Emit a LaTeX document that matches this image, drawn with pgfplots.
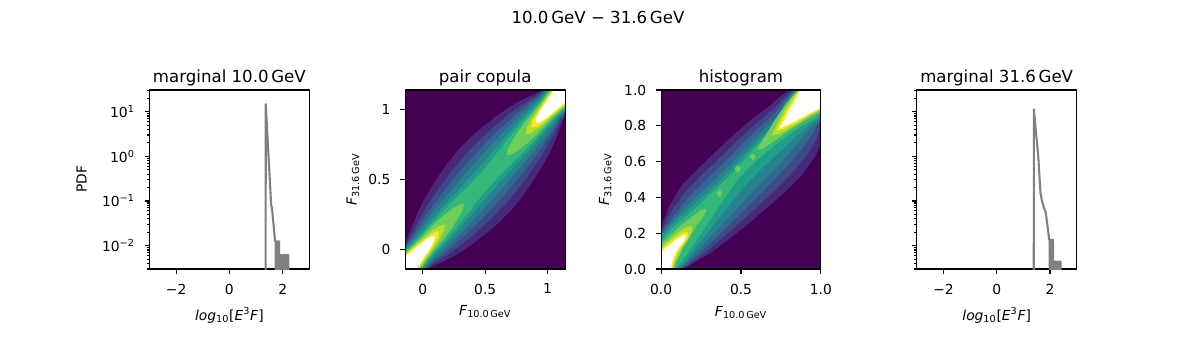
\documentclass[border=0pt]{standalone}
\usepackage{fontspec}
\setmainfont{DejaVu Sans}
\usepackage{pgfplots}
\pgfplotsset{compat=1.18}

% viridis, 10 levels
\definecolor{c0}{HTML}{440154}
\definecolor{c1}{HTML}{482878}
\definecolor{c2}{HTML}{3E4989}
\definecolor{c3}{HTML}{31688E}
\definecolor{c4}{HTML}{26828E}
\definecolor{c5}{HTML}{1F9E89}
\definecolor{c6}{HTML}{35B779}
\definecolor{c7}{HTML}{6ECE58}
\definecolor{c8}{HTML}{B5DE2B}
\definecolor{c9}{HTML}{FDE725}
\definecolor{histgray}{HTML}{808080}

\pgfplotsset{
  mypanel/.style={
    scale only axis, width=115.06bp, height=128.88bp, anchor=south west,
    axis line style={line width=0.8bp},
    every tick/.style={black, line width=0.8bp},
    tick align=outside, tick pos=left,
    major tick length=3.5bp, minor tick length=2bp,
    tick label style={font=\fontsize{10}{12}\selectfont},
    xticklabel style={anchor=north, inner sep=0pt, yshift=-7bp},
    yticklabel style={anchor=east, inner sep=0pt, xshift=-7bp},
    label style={font=\fontsize{10}{12}\selectfont},
    title style={font=\fontsize{12}{14}\selectfont, at={(0.5,1)}, anchor=base, inner sep=0pt, yshift=-0.6bp},
  },
  mymarg/.style={mypanel, xmin=-3, xmax=3, ymin=0.003, ymax=30.6,
    xtick={-2,0,2}, xticklabels={−2,0,2},
    ytick={0.01,0.1,1,10},
    minor ytick={0.003,0.004,0.005,0.006,0.007,0.008,0.009,0.02,0.03,0.04,0.05,0.06,0.07,0.08,0.09,0.2,0.3,0.4,0.5,0.6,0.7,0.8,0.9,2,3,4,5,6,7,8,9,20,30},
    xlabel={\textit{log}\textsubscript{10}[\textit{E}\textsuperscript{3}\textit{F}]},
    xlabel style={at={(axis description cs:0.5,-0.285)}, anchor=base},
  },
  mydens/.style={mypanel, axis on top, axis background/.style={fill=c0}},
  margline/.style={histgray, line width=1.5bp, line join=round},
}

\begin{document}
\begin{tikzpicture}
\path[use as bounding box] (0,0) rectangle (861.12bp,258.48bp);

% marginal 10.0 GeV
\begin{axis}[ymode=log, mymarg, at={(107.64bp,64.8bp)}, title={marginal 10.0\,GeV},
  yticklabels={10\textsuperscript{−2},10\textsuperscript{−1},10\textsuperscript{0},10\textsuperscript{1}},
  ylabel={PDF}, ylabel style={at={(axis description cs:-0.394,0.5)}, anchor=base}]
\addplot[margline] coordinates {(1.36,1e-4) (1.365,14.8) (1.567,0.082) (1.585,0.075) (1.60,0.068) (1.716,0.0125) (1.74,0.0125) (1.745,1e-4) (1.75,1e-4) (1.755,0.0125) (1.78,0.0125) (1.785,1e-4) (1.79,1e-4) (1.795,0.0125) (1.82,0.0125) (1.825,1e-4) (1.83,0.0125) (1.865,0.0125) (1.87,1e-4) (1.90,1e-4) (1.905,0.0062) (1.94,0.0062) (1.945,1e-4) (1.98,1e-4) (1.985,0.0062) (2.02,0.0062) (2.025,1e-4) (2.05,1e-4) (2.055,0.0062) (2.10,0.0062) (2.105,1e-4) (2.14,1e-4) (2.145,0.0062) (2.21,0.0062) (2.215,1e-4)};
\end{axis}

% pair copula
\begin{axis}[mydens, at={(291.82bp,64.8bp)}, title={pair copula},
  xmin=-0.14, xmax=1.14, ymin=-0.14, ymax=1.14,
  xtick={0,0.5,1}, xticklabels={0,0.5,1}, ytick={0,0.5,1}, yticklabels={0,0.5,1},
  xlabel={\textit{F}\textsubscript{10.0\,GeV}}, xlabel style={at={(axis description cs:0.5,-0.257)}, anchor=base},
  ylabel={\textit{F}\textsubscript{31.6\,GeV}}, ylabel style={at={(axis description cs:-0.304,0.5)}, anchor=base}]
\addplot[fill=c1, draw=none] coordinates {(-0.31,-0.09) (-0.195,-0.005) (-0.14,0.04) (-0.11,0.11) (-0.08,0.18) (-0.048,0.248) (-0.013,0.313) (0.024,0.376) (0.105,0.495) (0.191,0.609) (0.286,0.714) (0.391,0.809) (0.505,0.895) (0.624,0.976) (0.687,1.013) (0.752,1.048) (0.82,1.08) (0.89,1.11) (0.96,1.14) (1.005,1.195) (1.09,1.31) (1.31,1.09) (1.195,1.005) (1.14,0.96) (1.11,0.89) (1.08,0.82) (1.048,0.752) (1.013,0.687) (0.976,0.624) (0.895,0.505) (0.809,0.391) (0.714,0.286) (0.609,0.191) (0.495,0.105) (0.376,0.024) (0.313,-0.013) (0.248,-0.048) (0.18,-0.08) (0.11,-0.11) (0.04,-0.14) (-0.005,-0.195) (-0.09,-0.31)};
\addplot[fill=c2, draw=none] coordinates {(-0.305,-0.095) (-0.19,-0.01) (-0.135,0.035) (-0.095,0.095) (-0.06,0.16) (-0.023,0.223) (0.016,0.284) (0.057,0.343) (0.144,0.456) (0.235,0.565) (0.332,0.668) (0.435,0.765) (0.544,0.856) (0.657,0.943) (0.716,0.984) (0.777,1.023) (0.84,1.06) (0.905,1.095) (0.965,1.135) (1.01,1.19) (1.095,1.305) (1.305,1.095) (1.19,1.01) (1.135,0.965) (1.095,0.905) (1.06,0.84) (1.023,0.777) (0.984,0.716) (0.943,0.657) (0.856,0.544) (0.765,0.435) (0.668,0.332) (0.565,0.235) (0.456,0.144) (0.343,0.057) (0.284,0.016) (0.223,-0.023) (0.16,-0.06) (0.095,-0.095) (0.035,-0.135) (-0.01,-0.19) (-0.095,-0.305)};
\addplot[fill=c3, draw=none] coordinates {(-0.3,-0.1) (-0.185,-0.015) (-0.13,0.03) (-0.086,0.086) (-0.046,0.146) (-0.004,0.204) (0.04,0.26) (0.084,0.316) (0.175,0.425) (0.27,0.53) (0.368,0.632) (0.47,0.73) (0.575,0.825) (0.684,0.916) (0.74,0.96) (0.796,1.004) (0.854,1.046) (0.914,1.086) (0.97,1.13) (1.015,1.185) (1.1,1.3) (1.3,1.1) (1.185,1.015) (1.13,0.97) (1.086,0.914) (1.046,0.854) (1.004,0.796) (0.96,0.74) (0.916,0.684) (0.825,0.575) (0.73,0.47) (0.632,0.368) (0.53,0.27) (0.425,0.175) (0.316,0.084) (0.26,0.04) (0.204,-0.004) (0.146,-0.046) (0.086,-0.086) (0.03,-0.13) (-0.015,-0.185) (-0.1,-0.3)};
\addplot[fill=c4, draw=none] coordinates {(-0.295,-0.105) (-0.18,-0.02) (-0.125,0.025) (-0.076,0.076) (-0.032,0.132) (0.013,0.187) (0.06,0.24) (0.107,0.293) (0.203,0.397) (0.301,0.499) (0.4,0.6) (0.501,0.699) (0.603,0.797) (0.707,0.893) (0.76,0.94) (0.813,0.987) (0.868,1.032) (0.924,1.076) (0.975,1.125) (1.02,1.18) (1.105,1.295) (1.295,1.105) (1.18,1.02) (1.125,0.975) (1.076,0.924) (1.032,0.868) (0.987,0.813) (0.94,0.76) (0.893,0.707) (0.797,0.603) (0.699,0.501) (0.6,0.4) (0.499,0.301) (0.397,0.203) (0.293,0.107) (0.24,0.06) (0.187,0.013) (0.132,-0.032) (0.076,-0.076) (0.025,-0.125) (-0.02,-0.18) (-0.105,-0.295)};
\addplot[fill=c5, draw=none] coordinates {(-0.29,-0.11) (-0.175,-0.025) (-0.12,0.02) (-0.067,0.067) (-0.018,0.118) (0.03,0.17) (0.079,0.221) (0.128,0.272) (0.229,0.371) (0.331,0.469) (0.432,0.568) (0.531,0.669) (0.629,0.771) (0.728,0.872) (0.779,0.921) (0.83,0.97) (0.882,1.018) (0.933,1.067) (0.98,1.12) (1.025,1.175) (1.11,1.29) (1.29,1.11) (1.175,1.025) (1.12,0.98) (1.067,0.933) (1.018,0.882) (0.97,0.83) (0.921,0.779) (0.872,0.728) (0.771,0.629) (0.669,0.531) (0.568,0.432) (0.469,0.331) (0.371,0.229) (0.272,0.128) (0.221,0.079) (0.17,0.03) (0.118,-0.018) (0.067,-0.067) (0.02,-0.12) (-0.025,-0.175) (-0.11,-0.29)};
\addplot[fill=c6, draw=none] coordinates {(-0.285,-0.115) (-0.168,-0.032) (-0.112,0.012) (-0.058,0.058) (-0.007,0.107) (0.042,0.158) (0.092,0.208) (0.143,0.257) (0.248,0.352) (0.355,0.445) (0.458,0.542) (0.555,0.645) (0.648,0.752) (0.743,0.857) (0.792,0.908) (0.842,0.958) (0.893,1.007) (0.942,1.058) (0.988,1.112) (1.032,1.168) (1.115,1.285) (1.285,1.115) (1.168,1.032) (1.112,0.988) (1.058,0.942) (1.007,0.893) (0.958,0.842) (0.908,0.792) (0.857,0.743) (0.752,0.648) (0.645,0.555) (0.542,0.458) (0.445,0.355) (0.352,0.248) (0.257,0.143) (0.208,0.092) (0.158,0.042) (0.107,-0.007) (0.058,-0.058) (0.012,-0.112) (-0.032,-0.168) (-0.115,-0.285)};
\addplot[fill=c7, draw=none] coordinates {(-0.278,-0.122) (-0.162,-0.038) (-0.106,0.006) (-0.051,0.051) (0.002,0.098) (0.054,0.146) (0.106,0.194) (0.161,0.239) (0.219,0.281) (0.282,0.318) (0.33,0.33) (0.318,0.282) (0.281,0.219) (0.239,0.161) (0.194,0.106) (0.146,0.054) (0.098,0.002) (0.051,-0.051) (0.006,-0.106) (-0.038,-0.162) (-0.122,-0.278)};
\addplot[fill=c7, draw=none] coordinates {(1.278,1.122) (1.162,1.038) (1.106,0.994) (1.051,0.949) (0.998,0.902) (0.946,0.854) (0.894,0.806) (0.839,0.761) (0.781,0.719) (0.718,0.682) (0.67,0.67) (0.682,0.718) (0.719,0.781) (0.761,0.839) (0.806,0.894) (0.854,0.946) (0.902,0.998) (0.949,1.051) (0.994,1.106) (1.038,1.162) (1.122,1.278)};
\addplot[fill=c8, draw=none] coordinates {(-0.272,-0.128) (-0.157,-0.043) (-0.1,0) (-0.044,0.044) (0.012,0.088) (0.069,0.131) (0.132,0.168) (0.18,0.18) (0.168,0.132) (0.131,0.069) (0.088,0.012) (0.044,-0.044) (0,-0.1) (-0.043,-0.157) (-0.128,-0.272)};
\addplot[fill=c8, draw=none] coordinates {(1.272,1.128) (1.157,1.043) (1.1,1.0) (1.044,0.956) (0.988,0.912) (0.931,0.869) (0.868,0.832) (0.82,0.82) (0.832,0.868) (0.869,0.931) (0.912,0.988) (0.956,1.044) (1.0,1.1) (1.043,1.157) (1.128,1.272)};
\addplot[fill=c9, draw=none] coordinates {(-0.266,-0.134) (-0.151,-0.049) (-0.094,-0.006) (-0.037,0.037) (0.02,0.08) (0.08,0.12) (0.13,0.13) (0.12,0.08) (0.08,0.02) (0.037,-0.037) (-0.006,-0.094) (-0.049,-0.151) (-0.134,-0.266)};
\addplot[fill=c9, draw=none] coordinates {(1.266,1.134) (1.151,1.049) (1.094,1.006) (1.037,0.963) (0.98,0.92) (0.92,0.88) (0.87,0.87) (0.88,0.92) (0.92,0.98) (0.963,1.037) (1.006,1.094) (1.049,1.151) (1.134,1.266)};
\addplot[fill=white, draw=none] coordinates {(-0.26,-0.14) (-0.145,-0.055) (-0.087,-0.013) (-0.03,0.03) (0.028,0.072) (0.068,0.092) (0.095,0.095) (0.092,0.068) (0.072,0.028) (0.03,-0.03) (-0.013,-0.087) (-0.055,-0.145) (-0.14,-0.26)};
\addplot[fill=white, draw=none] coordinates {(1.26,1.14) (1.145,1.055) (1.087,1.013) (1.03,0.97) (0.972,0.928) (0.932,0.908) (0.905,0.905) (0.908,0.932) (0.928,0.972) (0.97,1.03) (1.013,1.087) (1.055,1.145) (1.14,1.26)};
\end{axis}

% histogram
\begin{axis}[mydens, at={(475.99bp,64.8bp)}, title={histogram},
  xmin=0, xmax=1, ymin=0, ymax=1,
  xtick={0,0.5,1}, xticklabels={0.0,0.5,1.0},
  ytick={0,0.2,0.4,0.6,0.8,1}, yticklabels={0.0,0.2,0.4,0.6,0.8,1.0},
  xlabel={\textit{F}\textsubscript{10.0\,GeV}}, xlabel style={at={(axis description cs:0.5,-0.265)}, anchor=base},
  ylabel={\textit{F}\textsubscript{31.6\,GeV}}, ylabel style={at={(axis description cs:-0.326,0.5)}, anchor=base}]
\addplot[fill=c1, draw=none] coordinates {(-0.18,-0.02) (-0.09,0.09) (-0.05,0.15) (-0.01,0.21) (0.02,0.28) (0.05,0.35) (0.13,0.47) (0.235,0.565) (0.343,0.657) (0.453,0.747) (0.565,0.835) (0.685,0.915) (0.74,0.96) (0.8,1.0) (0.86,1.04) (0.915,1.085) (1.015,1.185) (1.19,1.01) (1.09,0.91) (1.055,0.845) (1.025,0.775) (1.0,0.7) (0.968,0.632) (0.878,0.522) (0.772,0.428) (0.66,0.34) (0.547,0.253) (0.43,0.17) (0.31,0.09) (0.245,0.055) (0.18,0.02) (0.115,-0.015) (0.05,-0.05) (-0.05,-0.15)};
\addplot[fill=c2, draw=none] coordinates {(-0.17,-0.03) (-0.075,0.075) (-0.04,0.14) (-0.005,0.205) (0.032,0.268) (0.07,0.33) (0.16,0.44) (0.265,0.535) (0.373,0.627) (0.48,0.72) (0.59,0.81) (0.705,0.895) (0.755,0.945) (0.81,0.99) (0.865,1.035) (0.92,1.08) (1.02,1.18) (1.18,1.02) (1.08,0.92) (1.04,0.86) (1.005,0.795) (0.972,0.728) (0.935,0.665) (0.842,0.558) (0.738,0.462) (0.63,0.37) (0.52,0.28) (0.408,0.192) (0.295,0.105) (0.235,0.065) (0.175,0.025) (0.11,-0.01) (0.045,-0.045) (-0.055,-0.145)};
\addplot[fill=c3, draw=none] coordinates {(-0.16,-0.04) (-0.065,0.065) (-0.035,0.135) (0,0.2) (0.045,0.255) (0.09,0.31) (0.185,0.415) (0.293,0.507) (0.4,0.6) (0.505,0.695) (0.612,0.788) (0.722,0.878) (0.765,0.935) (0.815,0.985) (0.87,1.03) (0.922,1.078) (1.022,1.178) (1.168,1.032) (1.068,0.932) (1.04,0.86) (0.985,0.815) (0.945,0.755) (0.903,0.697) (0.808,0.592) (0.705,0.495) (0.6,0.4) (0.494,0.306) (0.388,0.212) (0.28,0.12) (0.224,0.076) (0.168,0.032) (0.108,-0.008) (0.04,-0.04) (-0.06,-0.14)};
\addplot[fill=c4, draw=none] coordinates {(-0.152,-0.048) (-0.056,0.056) (-0.03,0.13) (0.006,0.194) (0.052,0.248) (0.102,0.298) (0.208,0.392) (0.318,0.482) (0.424,0.576) (0.528,0.672) (0.632,0.768) (0.738,0.862) (0.772,0.928) (0.82,0.98) (0.872,1.028) (0.925,1.075) (1.025,1.175) (1.175,1.025) (1.075,0.925) (1.03,0.87) (0.98,0.82) (0.922,0.778) (0.875,0.725) (0.778,0.622) (0.675,0.525) (0.57,0.43) (0.468,0.332) (0.366,0.234) (0.265,0.135) (0.214,0.086) (0.162,0.038) (0.105,-0.005) (0.036,-0.036) (-0.064,-0.136)};
\addplot[fill=c5, draw=none] coordinates {(-0.146,-0.054) (-0.05,0.05) (-0.025,0.125) (0.012,0.188) (0.06,0.24) (0.112,0.288) (0.225,0.375) (0.335,0.465) (0.44,0.56) (0.543,0.657) (0.647,0.753) (0.75,0.85) (0.778,0.922) (0.824,0.976) (0.875,1.025) (0.927,1.073) (1.027,1.173) (1.17,1.03) (1.07,0.93) (1.02,0.88) (0.97,0.83) (0.91,0.79) (0.852,0.748) (0.745,0.655) (0.635,0.565) (0.53,0.47) (0.435,0.365) (0.34,0.26) (0.248,0.152) (0.202,0.098) (0.155,0.045) (0.1,0.0) (0.032,-0.032) (-0.068,-0.132)};
\addplot[fill=c6, draw=none] coordinates {(-0.142,-0.058) (-0.045,0.045) (-0.018,0.118) (0.022,0.178) (0.072,0.228) (0.128,0.272) (0.24,0.36) (0.348,0.452) (0.455,0.545) (0.555,0.645) (0.655,0.745) (0.758,0.842) (0.785,0.915) (0.828,0.972) (0.878,1.022) (0.93,1.07) (1.03,1.17) (1.165,1.035) (1.065,0.935) (1.015,0.885) (0.96,0.84) (0.895,0.805) (0.83,0.77) (0.71,0.69) (0.595,0.605) (0.488,0.512) (0.4,0.4) (0.315,0.285) (0.23,0.17) (0.186,0.114) (0.142,0.058) (0.095,0.005) (0.035,-0.035) (-0.072,-0.128)};
\addplot[fill=c7, draw=none] coordinates {(0.345,0.423) (0.365,0.445) (0.385,0.423) (0.365,0.4)};
\addplot[fill=c7, draw=none] coordinates {(0.46,0.56) (0.48,0.582) (0.5,0.56) (0.48,0.538)};
\addplot[fill=c7, draw=none] coordinates {(0.556,0.627) (0.574,0.648) (0.592,0.627) (0.574,0.606)};
\addplot[fill=c7, draw=none] coordinates {(0.615,0.69) (0.633,0.712) (0.651,0.69) (0.633,0.668)};
\addplot[fill=c7, draw=none] coordinates {(-0.05,-0.05) (-0.05,0.14) (0,0.14) (0.06,0.19) (0.12,0.24) (0.19,0.29) (0.25,0.33) (0.285,0.335) (0.27,0.3) (0.22,0.24) (0.17,0.17) (0.13,0.1) (0.095,0.04) (0.08,0) (0.08,-0.05)};
\addplot[fill=c7, draw=none] coordinates {(0.6,0.665) (0.65,0.74) (0.71,0.83) (0.78,0.92) (0.84,0.985) (0.86,1.0) (0.86,1.05) (1.05,1.05) (1.05,0.88) (1.0,0.88) (0.92,0.84) (0.82,0.785) (0.7,0.71) (0.64,0.675)};
\addplot[fill=c8, draw=none] coordinates {(-0.05,-0.05) (-0.05,0.125) (0,0.125) (0.05,0.16) (0.1,0.2) (0.15,0.23) (0.19,0.24) (0.195,0.21) (0.165,0.16) (0.125,0.11) (0.09,0.045) (0.075,0) (0.075,-0.05)};
\addplot[fill=c8, draw=none] coordinates {(0.69,0.745) (0.72,0.8) (0.77,0.885) (0.83,0.965) (0.863,1.0) (0.863,1.05) (1.05,1.05) (1.05,0.89) (1.0,0.89) (0.93,0.855) (0.84,0.805) (0.74,0.755)};
\addplot[fill=c9, draw=none] coordinates {(-0.05,-0.05) (-0.05,0.11) (0,0.11) (0.04,0.14) (0.09,0.175) (0.13,0.2) (0.168,0.208) (0.168,0.178) (0.14,0.14) (0.105,0.095) (0.08,0.04) (0.068,0) (0.068,-0.05)};
\addplot[fill=c9, draw=none] coordinates {(0.72,0.772) (0.75,0.825) (0.795,0.9) (0.84,0.965) (0.866,1.0) (0.866,1.05) (1.05,1.05) (1.05,0.895) (1.0,0.895) (0.93,0.862) (0.85,0.82) (0.77,0.785)};
\addplot[fill=white, draw=none] coordinates {(-0.05,-0.05) (-0.05,0.097) (0,0.097) (0.04,0.125) (0.09,0.16) (0.13,0.185) (0.155,0.19) (0.15,0.165) (0.12,0.13) (0.09,0.09) (0.07,0.04) (0.06,0) (0.06,-0.05)};
\addplot[fill=white, draw=none] coordinates {(0.742,0.788) (0.77,0.83) (0.81,0.9) (0.85,0.96) (0.87,1.0) (0.87,1.05) (1.05,1.05) (1.05,0.9) (1.0,0.9) (0.93,0.87) (0.85,0.83) (0.79,0.805)};
\end{axis}

% marginal 31.6 GeV
\begin{axis}[ymode=log, mymarg, at={(660.1bp,64.8bp)}, title={marginal 31.6\,GeV}, yticklabels={}]
\addplot[margline] coordinates {(1.39,1e-4) (1.395,11.3) (1.56,1.0) (1.645,0.15) (1.70,0.10) (1.76,0.075) (1.845,0.054) (1.97,0.0135) (1.99,0.0135) (1.995,1e-4) (2.0,1e-4) (2.005,0.0135) (2.04,0.0135) (2.045,1e-4) (2.05,0.0135) (2.12,0.0135) (2.125,1e-4) (2.17,1e-4) (2.175,0.0044) (2.22,0.0044) (2.225,1e-4) (2.26,1e-4) (2.265,0.0044) (2.30,0.0044) (2.305,1e-4) (2.33,1e-4) (2.335,0.0044) (2.40,0.0044) (2.405,1e-4)};
\end{axis}

\node[anchor=base, font=\fontsize{12}{14}\selectfont] at (430.56bp,241.2bp) {10.0\,GeV − 31.6\,GeV};
\end{tikzpicture}
\end{document}
